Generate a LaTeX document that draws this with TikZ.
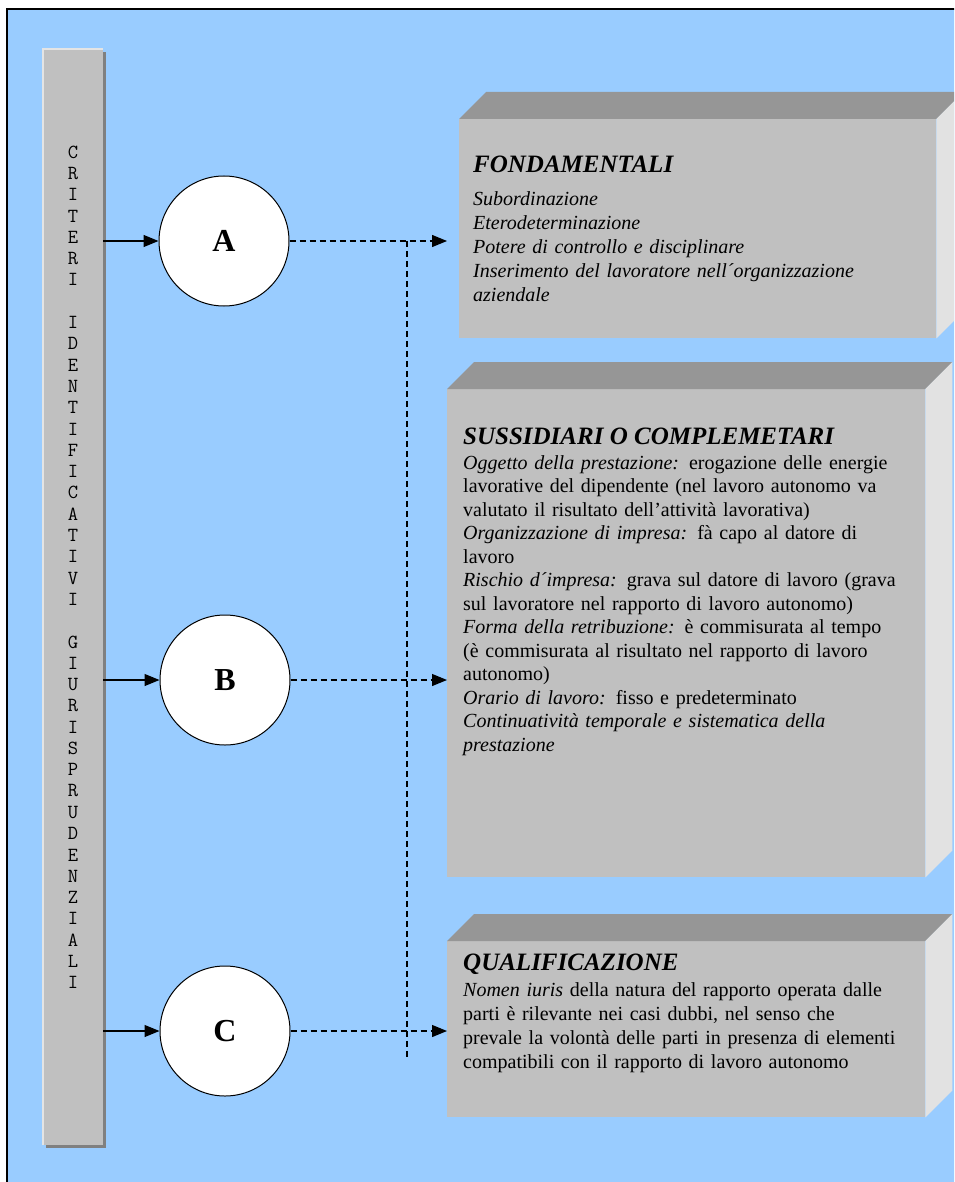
\documentclass[tikz,border=0pt]{standalone}
\usepackage{fontspec}
\setmainfont{Liberation Serif}
\usetikzlibrary{arrows.meta}
\definecolor{sky}{HTML}{99CCFF}
\definecolor{facefront}{HTML}{C0C0C0}
\definecolor{facetop}{HTML}{969696}
\definecolor{faceside}{HTML}{E2E2E2}
\definecolor{barshade}{HTML}{808080}
\definecolor{barlight}{HTML}{E4E4E4}

\begin{document}
\begin{tikzpicture}[x=1pt,y=-1pt,
  front/.style={fill=facefront, draw=none, inner sep=0, anchor=north west},
  topface/.style={fill=facetop},
  sideface/.style={fill=faceside},
  ring/.style={circle, draw=black, line width=1pt, fill=white, minimum size=130pt, inner sep=0,
    font=\fontsize{32}{32}\selectfont\bfseries},
  barletter/.style={inner sep=0, font=\ttfamily\fontsize{20}{20}\selectfont},
  solidarrow/.style={line width=1.2pt, -{Triangle[length=15pt,width=12pt]}},
  dasharrow/.style={line width=1.2pt, dash pattern=on 6pt off 4pt, -{Triangle[length=15pt,width=12pt]}},
  dashline/.style={line width=1.2pt, dash pattern=on 6pt off 4pt},
  boxtitle/.style={inner sep=0, anchor=base west, font=\fontsize{25}{29}\selectfont\bfseries\itshape},
  boxbody/.style={inner sep=0, anchor=base west, text width=480pt, align=left}
]
\useasboundingbox (0,0) rectangle (954,1182);
\clip (0,0) rectangle (954,1182);

% page and framed background
\fill[white] (0,0) rectangle (954,1182);
\filldraw[fill=sky, draw=black, line width=1.3pt] (7,9) rectangle (975,1200);

% vertical bar with shadow and highlight
\fill[barshade] (46,52) rectangle (106,1148);
\node[front, minimum width=60pt, minimum height=1096pt] (bar) at (43,49) {};
\draw[barlight, line width=1.5pt] (bar.south west) -- (bar.north west) -- (bar.north east);

\foreach \ch [count=\k from 0] in {C,R,I,T,E,R,I}
  \node[barletter] (wa\k) at (73,{152+21.3*\k}) {\ch};
\foreach \ch [count=\k from 8] in {I,D,E,N,T,I,F,I,C,A,T,I,V,I}
  \node[barletter] (wb\k) at (73,{152+21.3*\k}) {\ch};
\foreach \ch [count=\k from 23] in {G,I,U,R,I,S,P,R,U,D,E,N,Z,I,A,L,I}
  \node[barletter] (wc\k) at (73,{152+21.3*\k}) {\ch};

% three boxes (front, top, side faces)
\node[front, minimum width=477pt, minimum height=219pt] (boxA) at (459,119) {};
\node[front, minimum width=478pt, minimum height=488pt] (boxB) at (447,389) {};
\node[front, minimum width=478pt, minimum height=176pt] (boxC) at (447,941) {};
\foreach \b in {boxA,boxB,boxC}{
  \fill[topface] (\b.north west) -- ++(27,-27) -- ([shift={(27,-27)}]\b.north east) -- (\b.north east) -- cycle;
  \fill[sideface] (\b.north east) -- ++(27,-27) -- ([shift={(27,-27)}]\b.south east) -- (\b.south east) -- cycle;
}

% circles
\node[ring] (cA) at (224,241) {A};
\node[ring] (cB) at (225,680) {B};
\node[ring] (cC) at (225,1031) {C};

% connectors
\coordinate (jTop) at (407,241);
\coordinate (jBot) at (407,1060);
\draw[dashline] (jTop) -- (jBot);
\foreach \c in {cA,cB,cC}{
  \draw[solidarrow] (bar.east |- \c) -- (\c.west);
  \draw[dasharrow] (\c.east) -- (boxB.west |- \c);
}

% texts
\node[boxtitle] (tA) at (473,173) {FONDAMENTALI};
\node[boxbody, font=\fontsize{20}{24}\selectfont\itshape] (bA) at (473,206)
  {Subordinazione\\
   Eterodeterminazione\\
   Potere di controllo e disciplinare\\
   Inserimento del lavoratore nell´organizzazione\\
   aziendale};

\node[boxtitle] (tB) at (463,444) {SUSSIDIARI O COMPLEMETARI};
\node[boxbody, font=\fontsize{20}{23.5}\selectfont] (bB) at (463,469)
  {\textit{Oggetto della prestazione:} erogazione delle energie\\
   lavorative del dipendente (nel lavoro autonomo va\\
   valutato il risultato dell’attività lavorativa)\\
   \textit{Organizzazione di impresa:} fà capo al datore di\\
   lavoro\\
   \textit{Rischio d´impresa:} grava sul datore di lavoro (grava\\
   sul lavoratore nel rapporto di lavoro autonomo)\\
   \textit{Forma della retribuzione:} è commisurata al tempo\\
   (è commisurata al risultato nel rapporto di lavoro\\
   autonomo)\\
   \textit{Orario di lavoro:} fisso e predeterminato\\
   \textit{Continuatività temporale e sistematica della}\\
   \textit{prestazione}};

\node[boxtitle] (tC) at (463,970) {QUALIFICAZIONE};
\node[boxbody, font=\fontsize{20}{24}\selectfont] (bC) at (463,996)
  {\textit{Nomen iuris} della natura del rapporto operata dalle\\
   parti è rilevante nei casi dubbi, nel senso che\\
   prevale la volontà delle parti in presenza di elementi\\
   compatibili con il rapporto di lavoro autonomo};
\end{tikzpicture}
\end{document}
